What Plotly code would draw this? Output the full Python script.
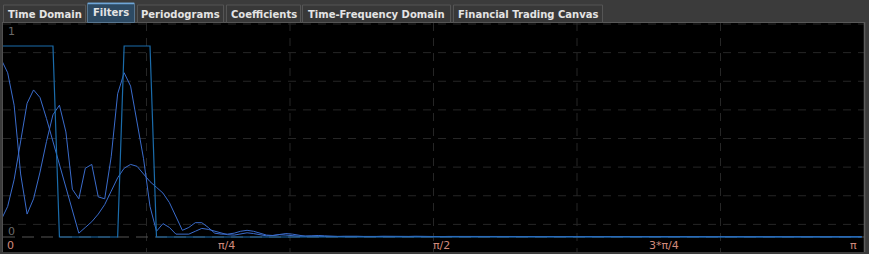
import numpy as np
import plotly.graph_objects as go

# ---------------- data ----------------
N_BINS = 134
freq = np.arange(N_BINS) * (np.pi / 133)          # normalised frequency bins 0..pi

ideal_filter = [1] * 9 + [0] * 10 + [1] * 5 + [0] * 110

filter_a_head = [0.93, 0.86, 0.69, 0.33, 0.12, 0.20, 0.34, 0.50, 0.64, 0.69,
                 0.55, 0.25, 0.20, 0.36, 0.38, 0.21, 0.20, 0.42, 0.75, 0.86,
                 0.79, 0.60, 0.41, 0.16, 0.03, 0.07, 0.05, 0.015, 0.015, 0.015,
                 0.03, 0.045, 0.04, 0.03, 0.02, 0.012, 0.01, 0.018, 0.022, 0.018,
                 0.01, 0.006, 0.008, 0.012, 0.01, 0.006, 0.004, 0.005, 0.006, 0.004]
filter_a_tail = [0.003, 0.004, 0.003, 0.002, 0.002, 0.003, 0.004,
                 0.003, 0.002, 0.001, 0.002, 0.003, 0.003, 0.002,
                 0.001, 0.002, 0.003, 0.004, 0.003, 0.002, 0.001,
                 0.001, 0.002, 0.003, 0.003, 0.002, 0.001, 0.001,
                 0.002, 0.003, 0.002, 0.001, 0.001, 0.002, 0.003,
                 0.003, 0.002, 0.001, 0.001, 0.002, 0.003, 0.002,
                 0.001, 0.001, 0.002, 0.003, 0.002, 0.001, 0.001,
                 0.002, 0.003, 0.002, 0.001, 0.001, 0.002, 0.003,
                 0.002, 0.001, 0.001, 0.002, 0.003, 0.002, 0.001,
                 0.001, 0.002, 0.003, 0.002, 0.001, 0.001, 0.002,
                 0.003, 0.002, 0.001, 0.001, 0.002, 0.003, 0.002,
                 0.001, 0.001, 0.002, 0.003, 0.002, 0.001, 0.001]
filter_b_head = [0.09, 0.16, 0.30, 0.51, 0.70, 0.77, 0.73, 0.62, 0.50, 0.38,
                 0.25, 0.13, 0.02, 0.05, 0.08, 0.12, 0.17, 0.24, 0.31, 0.36,
                 0.38, 0.37, 0.33, 0.29, 0.26, 0.23, 0.18, 0.11, 0.035, 0.05,
                 0.075, 0.075, 0.05, 0.02, 0.015, 0.015, 0.02, 0.03, 0.035, 0.03,
                 0.02, 0.01, 0.008, 0.012, 0.018, 0.015, 0.008, 0.004, 0.006, 0.008]
filter_b_tail = [0.006, 0.004, 0.003, 0.004, 0.005, 0.004, 0.003,
                 0.002, 0.003, 0.004, 0.003, 0.002, 0.002, 0.003,
                 0.004, 0.003, 0.002, 0.001, 0.002, 0.003, 0.003,
                 0.002, 0.001, 0.001, 0.002, 0.003, 0.002, 0.001,
                 0.001, 0.002, 0.003, 0.002, 0.001, 0.001, 0.002,
                 0.003, 0.002, 0.001, 0.001, 0.002, 0.003, 0.002,
                 0.001, 0.001, 0.002, 0.003, 0.002, 0.001, 0.001,
                 0.002, 0.003, 0.002, 0.001, 0.001, 0.002, 0.003,
                 0.002, 0.001, 0.001, 0.002, 0.003, 0.002, 0.001,
                 0.001, 0.002, 0.003, 0.002, 0.001, 0.001, 0.002,
                 0.003, 0.002, 0.001, 0.001, 0.002, 0.003, 0.002,
                 0.001, 0.001, 0.002, 0.003, 0.002, 0.001, 0.001]
filter_a = filter_a_head + filter_a_tail
filter_b = filter_b_head + filter_b_tail

x_tick_vals = [0, np.pi / 4, np.pi / 2, 3 * np.pi / 4, np.pi]
x_tick_text = ["0", "π/4", "π/2", "3*π/4", "π"]
y_tick_vals = [1, 0]
y_tick_text = ["1", "0"]

tab_labels = ["Time Domain", "Filters", "Periodograms", "Coefficients",
              "Time-Frequency Domain", "Financial Trading Canvas"]
selected_tab = 1

# ---------------- layout helpers (pixels -> paper) ----------------
W, H = 869, 254
def px(x):
    return x / W
def py(y):
    return 1 - y / H

PANEL_L, PANEL_R, PANEL_T, PANEL_B = 3, 864, 23, 252
tab_geom = [(3, 86), (87, 135), (137, 224), (226, 301), (302, 451), (453, 603)]

# axis ranges: value 1 at px 46, value 0 at px 237; bin 0 at px 1.2, spacing 6.47 px
ppu_y = 191.0
y_lo = -(PANEL_B - 237) / ppu_y
y_hi = (237 - PANEL_T) / ppu_y
ppu_x = 6.47 * 133 / np.pi
x_lo = (PANEL_L - 1.2) / ppu_x
x_hi = (PANEL_R - 1.2) / ppu_x

def x_to_paper(v):
    # data value -> paper fraction, through the x axis scale
    frac = (v - x_lo) / (x_hi - x_lo)
    return px(PANEL_L) + frac * (px(PANEL_R) - px(PANEL_L))

fig = go.Figure()

CURVE = "#3a6ccc"
RECT = "#1b6cab"
fig.add_trace(go.Scatter(x=freq, y=filter_b, mode="lines",
                         line=dict(color=CURVE, width=1), hoverinfo="skip"))
fig.add_trace(go.Scatter(x=freq, y=filter_a, mode="lines",
                         line=dict(color=CURVE, width=1), hoverinfo="skip"))
fig.add_trace(go.Scatter(x=freq, y=ideal_filter, mode="lines",
                         line=dict(color=RECT, width=1.2), hoverinfo="skip"))

shapes = []
grid_dash = "8px,7px"
for k in range(0, 8):
    yy = PANEL_T + 1 + k * (PANEL_B - PANEL_T) / 8
    shapes.append(dict(type="line", xref="paper", yref="paper", layer="below",
                       x0=px(PANEL_L), x1=px(PANEL_R), y0=py(yy), y1=py(yy),
                       line=dict(color="#262626", width=1, dash=grid_dash)))
for k in range(1, 6):
    xx = PANEL_L + k * (PANEL_R - PANEL_L) / 6
    shapes.append(dict(type="line", xref="paper", yref="paper", layer="below",
                       x0=px(xx), x1=px(xx), y0=py(PANEL_T), y1=py(PANEL_B),
                       line=dict(color="#262626", width=1, dash=grid_dash)))
shapes.append(dict(type="line", xref="paper", yref="y", layer="below",
                   x0=px(PANEL_L), x1=px(PANEL_R), y0=0, y1=0,
                   line=dict(color="#555555", width=1, dash="12px,7px")))
shapes.append(dict(type="line", xref="paper", yref="paper",
                   x0=px(PANEL_L - 0.5), x1=px(PANEL_L - 0.5), y0=py(PANEL_T), y1=py(PANEL_B),
                   line=dict(color="#505050", width=1)))
shapes.append(dict(type="line", xref="paper", yref="paper",
                   x0=px(PANEL_R + 0.5), x1=px(PANEL_R + 0.5), y0=py(PANEL_T - 1), y1=py(PANEL_B),
                   line=dict(color="#5c5c5c", width=1.5)))
shapes.append(dict(type="line", xref="paper", yref="paper",
                   x0=px(PANEL_L - 1), x1=px(PANEL_R + 1), y0=py(PANEL_T - 0.5), y1=py(PANEL_T - 0.5),
                   line=dict(color="#585858", width=1)))

annotations = []
for i, (lbl, (x0, x1)) in enumerate(zip(tab_labels, tab_geom)):
    sel = i == selected_tab
    top = 3 if sel else 5
    shapes.append(dict(type="rect", xref="paper", yref="paper",
                       x0=px(x0 + 0.5), x1=px(x1 - 0.5), y0=py(PANEL_T - 0.5), y1=py(top),
                       fillcolor="#2d4a63" if sel else "#383838",
                       line=dict(color="#587690" if sel else "#555555", width=1)))
    if sel:
        shapes.append(dict(type="line", xref="paper", yref="paper",
                           x0=px(x0 + 1), x1=px(x1 - 1), y0=py(top + 0.5), y1=py(top + 0.5),
                           line=dict(color="#6fa6d8", width=1.5)))
    annotations.append(dict(xref="paper", yref="paper", x=px((x0 + x1) / 2),
                            y=py(12.5 if sel else 14), text=lbl, showarrow=False,
                            xanchor="center", yanchor="middle",
                            font=dict(family="DejaVu Sans", size=10, color="#e4e4e4",
                                      weight="bold")))

# x tick labels (left-aligned at tick position, last one right-aligned)
x_shifts = [4, 0, 0, 0, -3]
for i, (v, t) in enumerate(zip(x_tick_vals, x_tick_text)):
    last = i == len(x_tick_vals) - 1
    annotations.append(dict(xref="paper", yref="paper", x=x_to_paper(v), y=py(245), text=t,
                            showarrow=False, xanchor="right" if last else "left",
                            yanchor="middle", xshift=x_shifts[i],
                            font=dict(family="DejaVu Sans", size=11, color="#d08a7c")))
# y tick labels
y_label_px = [31.5, 231]
for v, t, yp in zip(y_tick_vals, y_tick_text, y_label_px):
    annotations.append(dict(xref="paper", yref="paper", x=px(6), y=py(yp), text=t,
                            showarrow=False, xanchor="left", yanchor="middle",
                            font=dict(family="DejaVu Sans", size=11, color="#6a6a6a")))

fig.update_layout(
    width=W, height=H,
    margin=dict(l=0, r=0, t=0, b=0),
    paper_bgcolor="#3b3b3b",
    plot_bgcolor="#000000",
    showlegend=False,
    xaxis=dict(domain=[px(PANEL_L), px(PANEL_R)], range=[x_lo, x_hi],
               showgrid=False, zeroline=False, showticklabels=False, ticks="",
               fixedrange=True),
    yaxis=dict(domain=[py(PANEL_B), py(PANEL_T)], range=[y_lo, y_hi],
               showgrid=False, zeroline=False, showticklabels=False, ticks="",
               fixedrange=True),
    shapes=shapes,
    annotations=annotations,
)

fig.write_html("out.html", config={"displayModeBar": False})
